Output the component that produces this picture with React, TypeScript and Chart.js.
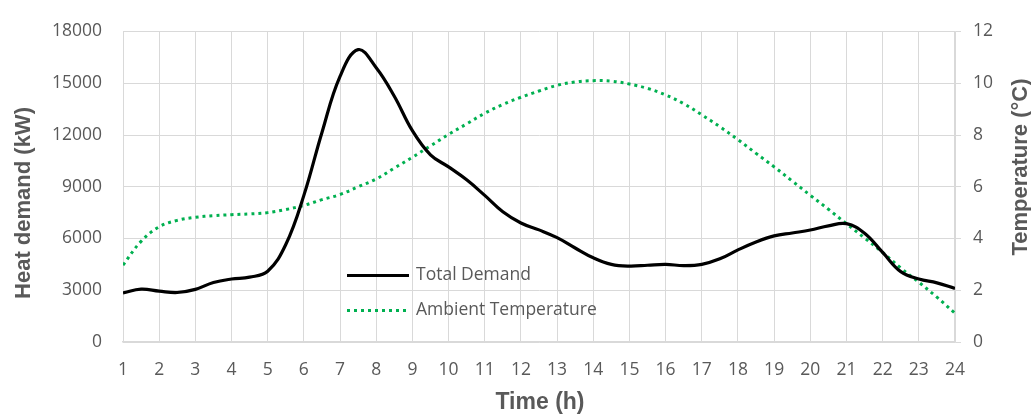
import React, { useEffect, useRef } from "react";
import { Chart, registerables } from "chart.js";

Chart.register(...registerables);

const hours = [1, 1.5, 2, 2.5, 3, 3.5, 4, 4.5, 5, 5.5, 6, 6.5, 7, 7.5, 8, 8.5, 9, 9.5, 10, 10.5, 11, 11.5, 12, 12.5, 13, 13.5, 14, 14.5, 15, 15.5, 16, 16.5, 17, 17.5, 18, 18.5, 19, 19.5, 20, 20.5, 21, 21.5, 22, 22.5, 23, 23.5, 24];

const totalDemand = [2850, 3060, 2950, 2870, 3050, 3450, 3650, 3760, 4100, 5650, 8500, 12150, 15400, 16950, 15900, 14250, 12250, 10850, 10150, 9400, 8500, 7550, 6900, 6500, 6050, 5450, 4880, 4500, 4400, 4450, 4500, 4430, 4500, 4820, 5340, 5800, 6150, 6320, 6490, 6730, 6860, 6300, 5190, 4080, 3650, 3430, 3110];

const ambientTemperature = [2.97, 3.89, 4.45, 4.7, 4.82, 4.88, 4.92, 4.95, 5.0, 5.12, 5.28, 5.5, 5.7, 6.0, 6.3, 6.72, 7.14, 7.58, 8.02, 8.43, 8.84, 9.18, 9.46, 9.7, 9.92, 10.05, 10.1, 10.08, 9.97, 9.8, 9.55, 9.21, 8.78, 8.32, 7.82, 7.29, 6.77, 6.22, 5.67, 5.13, 4.57, 4.02, 3.46, 2.86, 2.31, 1.73, 1.11];

const seriesNames = ["Total Demand", "Ambient Temperature"];
const xTitle = "Time (h)";
const yLeftTitle = "Heat demand (kW)";
const yRightTitle = "Temperature (°C)";

const GRAY = "#595959";
const GRID = "#d9d9d9";
const GREEN = "#00b050";
const TICK_FONT = "'Open Sans', sans-serif";
const TITLE_FONT = "'Liberation Sans', Arial, sans-serif";

const overlayPlugin = {
  id: "overlay",
  afterDraw(chart: any) {
    const ctx = chart.ctx;
    ctx.save();
    ctx.fillStyle = GRAY;
    ctx.font = `bold 22px ${TITLE_FONT}`;
    ctx.textAlign = "center";
    ctx.textBaseline = "alphabetic";
    ctx.save();
    ctx.translate(30, 203);
    ctx.rotate(-Math.PI / 2);
    ctx.fillText(yLeftTitle, 0, 0);
    ctx.restore();
    ctx.save();
    ctx.translate(1027, 167);
    ctx.rotate(-Math.PI / 2);
    ctx.fillText(yRightTitle, 0, 0);
    ctx.restore();
    ctx.font = `bold 23px ${TITLE_FONT}`;
    ctx.fillText(xTitle, 540, 409);

    ctx.lineWidth = 3;
    ctx.strokeStyle = "#000000";
    ctx.setLineDash([]);
    ctx.beginPath();
    ctx.moveTo(347, 275.5);
    ctx.lineTo(409, 275.5);
    ctx.stroke();
    ctx.strokeStyle = GREEN;
    ctx.setLineDash([3, 4]);
    ctx.beginPath();
    ctx.moveTo(347, 310.5);
    ctx.lineTo(406, 310.5);
    ctx.stroke();
    ctx.setLineDash([]);
    ctx.fillStyle = GRAY;
    ctx.font = `17.5px ${TICK_FONT}`;
    ctx.textAlign = "left";
    ctx.textBaseline = "middle";
    ctx.fillText(seriesNames[0], 416, 275);
    ctx.fillText(seriesNames[1], 416, 310);
    ctx.restore();
  },
};

const plainTick = (v: any) => String(v);

export default function App() {
  const ref = useRef<HTMLCanvasElement | null>(null);
  useEffect(() => {
    document.body.style.margin = "0";
    const canvas = ref.current;
    if (!canvas) return;
    const demandPts = hours.map((h, i) => ({ x: h, y: totalDemand[i] }));
    const tempPts = hours.map((h, i) => ({ x: h, y: ambientTemperature[i] }));
    const chart = new Chart(canvas, {
      type: "line",
      data: {
        datasets: [
          {
            label: seriesNames[0],
            data: demandPts,
            yAxisID: "y",
            borderColor: "#000000",
            borderWidth: 3.2,
            pointRadius: 0,
            tension: 0.4,
            fill: false,
          },
          {
            label: seriesNames[1],
            data: tempPts,
            yAxisID: "y1",
            borderColor: GREEN,
            borderWidth: 3,
            borderDash: [3, 4],
            pointRadius: 0,
            tension: 0.4,
            fill: false,
          },
        ],
      },
      options: {
        animation: false,
        responsive: false,
        events: [],
        layout: { padding: { top: 17, left: 0, right: 0, bottom: 0 } },
        plugins: {
          legend: { display: false },
          tooltip: { enabled: false },
          title: { display: false },
        },
        scales: {
          x: {
            type: "linear",
            min: 1,
            max: 24,
            ticks: {
              stepSize: 1,
              color: GRAY,
              font: { family: TICK_FONT, size: 17.5 },
              padding: 18,
              maxRotation: 0,
              autoSkip: false,
              callback: plainTick,
            },
            grid: { color: GRID, lineWidth: 1, drawTicks: false },
            border: { color: GRID, width: 1.5 },
            afterFit: (s: any) => {
              s.height = 76;
            },
          },
          y: {
            type: "linear",
            position: "left",
            min: 0,
            max: 18000,
            ticks: {
              stepSize: 3000,
              color: GRAY,
              font: { family: TICK_FONT, size: 17.5 },
              padding: 21,
              callback: plainTick,
            },
            grid: { color: GRID, lineWidth: 1, drawTicks: false },
            border: { color: GRID, width: 1 },
            afterFit: (s: any) => {
              s.width = 123;
            },
          },
          y1: {
            type: "linear",
            position: "right",
            min: 0,
            max: 12,
            ticks: {
              stepSize: 2,
              color: GRAY,
              font: { family: TICK_FONT, size: 17.5 },
              padding: 12,
              callback: plainTick,
            },
            grid: { drawOnChartArea: false, color: GRID, tickLength: 6 },
            border: { color: GRID, width: 1.5 },
            afterFit: (s: any) => {
              s.width = 76;
            },
          },
        },
      },
      plugins: [overlayPlugin],
    } as any);
    return () => chart.destroy();
  }, []);
  return <canvas ref={ref} width={1031} height={418} style={{ display: "block" }} />;
}
